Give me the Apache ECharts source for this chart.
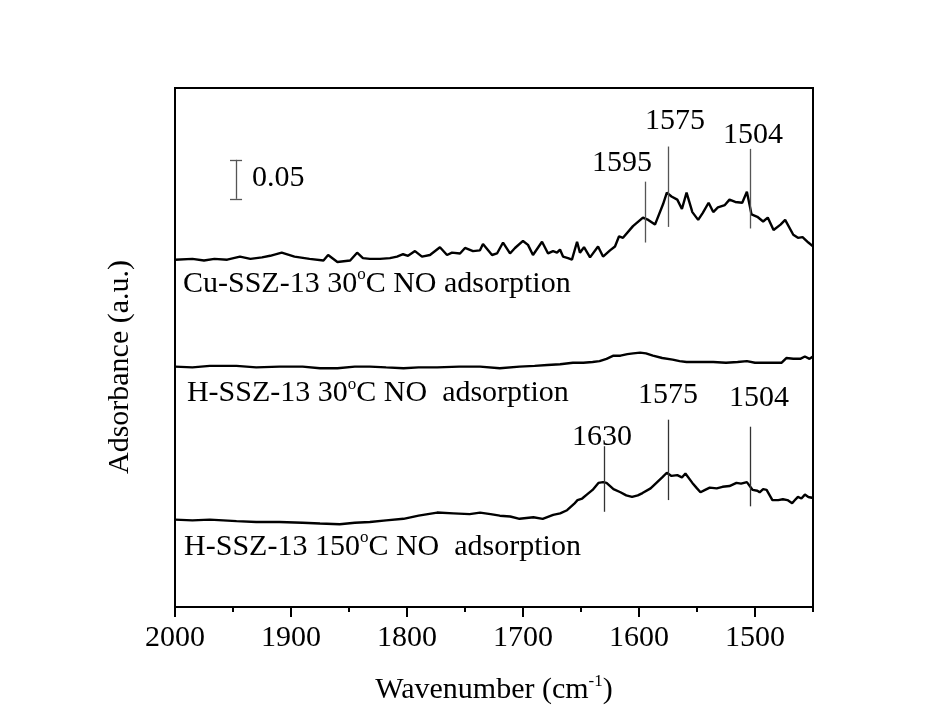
<!DOCTYPE html>
<html>
<head>
<meta charset="utf-8">
<script src="https://cdn.jsdelivr.net/npm/echarts@6/dist/echarts.min.js"></script>
<style>html,body{margin:0;padding:0;background:#fff}#c{width:927px;height:720px}</style>
</head>
<body>
<div id="c"></div>
<script>
// ---- data (wavenumber, absorbance a.u.) ----
const cuWn = [2000,1985,1975,1966,1955,1944,1935,1925,1918,1908,1897,1884,1872,1868,1860,1849,1843,1838,1832,1823.3,1814.7,1808.6,1803.4,1799.1,1793.1,1787.1,1780.2,1771.6,1765.5,1761.2,1754.3,1750,1743.1,1737.1,1734.5,1726.7,1722.4,1717.2,1711.2,1706.9,1700,1695.7,1691.4,1683.6,1678.4,1674.1,1670.7,1668.1,1665.5,1661.2,1657.8,1653.4,1650.9,1647.4,1642.2,1635.3,1631,1625,1620.7,1617.2,1613.8,1605.2,1596.6,1592,1586.2,1579.3,1576,1572,1567,1563,1559,1554,1549,1545,1540,1536,1532,1526,1522,1517,1511,1507,1503,1498,1493,1489,1484,1478,1474,1467,1463,1459,1454,1450];
const cuAbs = [.445,.446,.444,.446,.445,.449,.446,.448,.450,.454,.449,.446,.444,.451,.442,.444,.454,.447,.446,.446,.447,.449,.452,.450,.456,.449,.451,.461,.451,.454,.453,.460,.456,.457,.465,.451,.453,.467,.453,.460,.469,.464,.451,.468,.453,.456,.454,.458,.449,.447,.445,.468,.454,.461,.448,.462,.449,.457,.462,.475,.473,.488,.499,.496,.490,.516,.531,.526,.522,.510,.531,.506,.496,.505,.518,.506,.512,.515,.522,.519,.518,.532,.503,.500,.494,.499,.483,.490,.496,.477,.473,.474,.467,.462];

const h30Wn = [2000,1985,1970,1947,1930,1910,1890,1875,1860,1845,1832,1818,1803,1790,1774,1755,1737,1720,1703,1690,1679,1668,1657,1648,1640,1634,1628,1622,1616,1610,1605,1599,1594,1588,1580,1571,1565,1559,1548,1536,1525,1515,1507,1500,1490,1477,1473,1467,1461,1457,1453,1450];
const h30Abs = [.308,.307,.309,.309,.307,.308,.308,.306,.306,.308,.308,.307,.306,.307,.307,.308,.308,.306,.308,.309,.310,.311,.313,.313,.314,.315,.318,.322,.322,.324,.325,.326,.325,.322,.319,.317,.315,.314,.314,.314,.313,.314,.315,.313,.313,.313,.319,.318,.318,.321,.318,.321];

const h150Wn = [2000,1985,1970,1947,1930,1910,1890,1875,1858,1845,1832,1818,1803,1790,1774,1760,1746,1737,1728,1720,1711,1703,1697,1691,1683,1674,1668,1662,1656,1653,1649,1645,1640,1635,1631,1628,1622,1616,1611,1606,1601,1597,1590,1585,1580,1576,1572,1567,1563,1560,1554,1550,1547,1543,1539,1533,1528,1522,1516,1512,1507,1502,1498,1496,1493,1490,1485,1480,1476,1472,1468,1465,1463,1460,1457,1454,1451,1450];
const h150Abs = [.112,.111,.112,.110,.109,.109,.108,.107,.106,.108,.109,.111,.113,.117,.121,.120,.119,.121,.119,.117,.116,.113,.114,.115,.113,.118,.120,.124,.132,.137,.139,.144,.150,.159,.160,.159,.151,.147,.143,.141,.143,.146,.152,.159,.166,.172,.168,.169,.166,.171,.159,.152,.147,.150,.153,.152,.154,.155,.159,.158,.160,.150,.149,.147,.151,.150,.137,.137,.138,.137,.133,.138,.141,.139,.144,.141,.140,.141];

const xTickLabels = [2000,1900,1800,1700,1600,1500];
const cuPeaks = [1595,1575,1504];
const h150Peaks = [1630,1575,1504];
const seriesNames = ['Cu-SSZ-13 30', 'H-SSZ-13 30', 'H-SSZ-13 150'];
const scaleBarValue = 0.05;

// ---- build ----
const FONT = '"Liberation Serif","Times New Roman",serif';
const FS = 30;
const zip = (a, b) => a.map((x, i) => [x, b[i]]);
const rich = {
  a: {fontFamily: FONT, fontSize: FS, color: '#000', lineHeight: 35},
  s: {fontFamily: FONT, fontSize: 17, color: '#000', verticalAlign: 'top', lineHeight: 35}
};
function txtPoint(coord, formatter, pos) {
  return {
    coord: coord, symbol: 'circle', symbolSize: 0,
    label: {show: true, position: pos || 'inside', distance: 0, formatter: formatter,
      fontFamily: FONT, fontSize: FS, color: '#000', rich: rich}
  };
}
function vline(wn, y1, y2) { return [{coord: [wn, y1]}, {coord: [wn, y2]}]; }
const peakLineStyle = {color: '#555', width: 1.3, type: 'solid'};

const cuLines = [vline(cuPeaks[0], 0.467, 0.545), vline(cuPeaks[1], 0.487, 0.590), vline(cuPeaks[2], 0.485, 0.587)];
const h150Lines = [vline(h150Peaks[0], 0.122, 0.206), vline(h150Peaks[1], 0.137, 0.240), vline(h150Peaks[2], 0.129, 0.231)];
const sbX = 1947.4, sbY0 = 0.523;
const scaleLines = [vline(sbX, sbY0, sbY0 + scaleBarValue),
  [{coord: [sbX + 5.2, sbY0]}, {coord: [sbX - 5.2, sbY0]}],
  [{coord: [sbX + 5.2, sbY0 + scaleBarValue]}, {coord: [sbX - 5.2, sbY0 + scaleBarValue]}]];

const chart = echarts.init(document.getElementById('c'), null, {renderer: 'canvas'});
const lineBase = {type: 'line', showSymbol: false, symbol: 'none', smooth: false,
  lineStyle: {color: '#000', width: 2.4}, animation: false, z: 3};

chart.setOption({
  backgroundColor: '#fff',
  animation: false,
  grid: {left: 175, right: 114, top: 88, bottom: 113, show: true, borderColor: '#000', borderWidth: 2, backgroundColor: 'transparent'},
  xAxis: {
    type: 'value', inverse: true, min: 1450, max: 2000, interval: 50,
    name: '{a|Wavenumber (cm}{s|-1}{a|)}', nameLocation: 'middle', nameGap: 66,
    nameTextStyle: {rich: rich},
    axisLine: {show: true, lineStyle: {color: '#000', width: 2}},
    axisTick: {show: true, length: 5, lineStyle: {color: '#000', width: 2}},
    axisLabel: {margin: 16, fontFamily: FONT, fontSize: FS, color: '#000',
      formatter: v => (xTickLabels.indexOf(v) >= 0 ? String(v) : '')},
    splitLine: {show: false}
  },
  yAxis: {
    type: 'value', min: 0, max: 0.665,
    axisLine: {show: true, lineStyle: {color: '#000', width: 2}},
    axisTick: {show: false}, axisLabel: {show: false}, splitLine: {show: false}
  },
  graphic: [{
    type: 'text', x: 120, y: 367, rotation: Math.PI / 2,
    style: {text: 'Adsorbance (a.u.)', fontFamily: FONT, fontSize: FS, fill: '#000', align: 'center', verticalAlign: 'middle'}
  }],
  series: [
    Object.assign({}, lineBase, {
      name: seriesNames[0], data: zip(cuWn, cuAbs),
      markLine: {silent: true, symbol: ['none', 'none'], label: {show: false}, lineStyle: peakLineStyle, data: cuLines.concat(scaleLines), animation: false},
      markPoint: {silent: true, animation: false, data: [
        txtPoint([1993.1, 0.414], '{a|Cu-SSZ-13 30}{s|o}{a|C NO adsorption}', 'right'),
        txtPoint([1614.7, 0.569], '{a|' + cuPeaks[0] + '}'),
        txtPoint([1569, 0.622], '{a|' + cuPeaks[1] + '}'),
        txtPoint([1501.7, 0.605], '{a|' + cuPeaks[2] + '}'),
        txtPoint([1933.6, 0.550], '{a|' + scaleBarValue.toFixed(2) + '}', 'right')
      ]}
    }),
    Object.assign({}, lineBase, {
      name: seriesNames[1], data: zip(h30Wn, h30Abs),
      markPoint: {silent: true, animation: false, data: [
        txtPoint([1989.7, 0.274], '{a|H-SSZ-13 30}{s|o}{a|C NO  adsorption}', 'right')
      ]}
    }),
    Object.assign({}, lineBase, {
      name: seriesNames[2], data: zip(h150Wn, h150Abs),
      markLine: {silent: true, symbol: ['none', 'none'], label: {show: false}, lineStyle: {color: '#333', width: 1.3, type: 'solid'}, data: h150Lines, animation: false},
      markPoint: {silent: true, animation: false, data: [
        txtPoint([1992.2, 0.077], '{a|H-SSZ-13 150}{s|o}{a|C NO  adsorption}', 'right'),
        txtPoint([1632, 0.218], '{a|' + h150Peaks[0] + '}'),
        txtPoint([1575, 0.272], '{a|' + h150Peaks[1] + '}'),
        txtPoint([1496.6, 0.268], '{a|' + h150Peaks[2] + '}')
      ]}
    }),
    {
      type: 'custom', name: 'majorTicks', clip: false, silent: true, animation: false,
      data: xTickLabels.map(v => [v, 0]),
      renderItem: function (params, api) {
        const p = api.coord([api.value(0), 0]);
        return {type: 'line', shape: {x1: p[0], y1: p[1], x2: p[0], y2: p[1] + 10},
          style: {stroke: '#000', lineWidth: 2}};
      }
    }
  ]
});
</script>
</body>
</html>
